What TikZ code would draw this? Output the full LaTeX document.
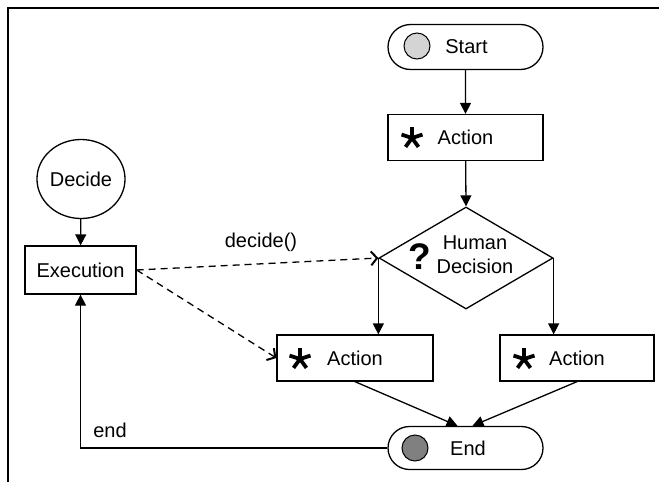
\documentclass[tikz,border=0pt]{standalone}
\usepackage{fontspec}
\setmainfont{Liberation Sans}
\usetikzlibrary{shapes.geometric,shapes.misc,arrows.meta}

\tikzset{
  asterisk/.pic={
    \foreach \a in {-90,-18,-162,54,126}
      \draw[line width=3.8pt] (0,0) -- (\a:11);
  },
}

\begin{document}
\begin{tikzpicture}[x=1pt,y=-1pt,
  every node/.style={font=\fontsize{20}{24}\selectfont, inner sep=0pt},
  box/.style={draw, line width=1.3pt, minimum height=46pt},
  pill/.style={draw, line width=1.3pt, rounded rectangle, minimum width=155pt, minimum height=45pt},
  dot/.style={circle, draw, line width=1pt, minimum size=26pt},
  flow/.style={line width=1.3pt, -{Triangle[length=11pt,width=11pt]}},
  call/.style={line width=1.3pt, dash pattern=on 7pt off 5pt,
               -{Straight Barb[length=6pt,width=14pt,line width=2pt]}},
]
\useasboundingbox (0,0) rectangle (659,482);

% page frame
\draw[line width=1.3pt] (8,482) -- (8,8) -- (659,8);

% main flow
\node[pill] (start) at (465.5,47) {\hspace*{2pt}Start};
\node[dot, fill=black!17] (sdot) at (417,46) {};
\node[box, minimum width=155pt] (act1) at (465.5,137.5) {Action};
\pic at (412,138) {asterisk};

\node[draw, line width=1.3pt, diamond, minimum width=174pt, minimum height=102pt] (dec) at (466,258) {};
\node[align=center] (dectxt) at (475,255) {Human\\Decision};
\node[font=\bfseries\fontsize{37}{37}\selectfont] (qmark) at (420,257) {?};

\node[box, minimum width=156pt] (act2) at (355,358) {Action};
\pic at (300,359) {asterisk};
\node[box, minimum width=154pt] (act3) at (577,358) {Action};
\pic at (524,359) {asterisk};

\node[pill, minimum height=43pt] (endn) at (465.5,448) {\hspace*{5pt}End};
\node[dot, fill=black!50] (edot) at (415,448) {};

% left side
\node[draw, line width=1.3pt, ellipse, minimum width=83pt, minimum height=79pt] (decide) at (81,179) {Decide};
\node[box, minimum width=111pt, minimum height=48pt] (exec) at (80.5,270) {Execution};

% connectors
\draw[flow] (start) -- (act1);
\draw[flow] (act1) -- (dec.north);
\draw[flow] (dec.west) -- (dec.west |- act2.north);
\draw[flow] (dec.east) -- (dec.east |- act3.north);
\draw[flow] (act2.south) -- ([xshift=-8pt]endn.north);
\draw[flow] (act3.south) -- ([xshift=7pt]endn.north);
\draw[flow] (decide) -- (exec);
\draw[flow] (endn.west) -| (exec.south);
\draw[call] (exec.east) -- (dec.west);
\draw[call] (exec.east) -- (act2.west);

% labels
\node (lbldecide) at (261,242) {decide()};
\node (lblend) at (110,430) {end};
\end{tikzpicture}
\end{document}
